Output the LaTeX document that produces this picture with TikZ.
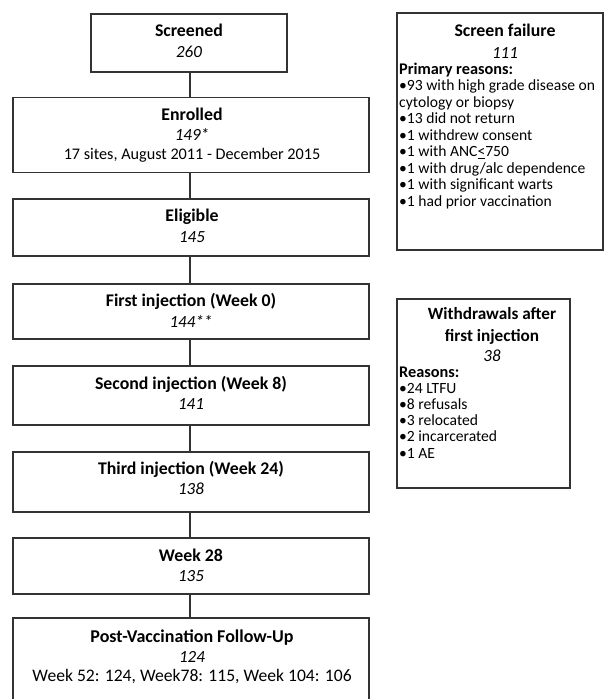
\documentclass[tikz,border=0pt]{standalone}
\usepackage{fontspec}
\setmainfont{Carlito}
\begin{document}
\begin{tikzpicture}[x=1pt,y=-1pt,
  box/.style={draw=black!80, line width=1.3pt, inner sep=0pt},
  conn/.style={draw=black!80, line width=1.3pt},
  ttl/.style={inner sep=0pt, anchor=base, font=\fontsize{17.8}{20}\selectfont\bfseries},
  num/.style={inner sep=0pt, anchor=base, font=\fontsize{17}{20}\selectfont\itshape},
  txt/.style={inner sep=0pt, anchor=base, font=\fontsize{16.2}{20}\selectfont},
  sidebody/.style={inner sep=0pt, anchor=base west, font=\fontsize{15.6}{18}\selectfont}
]
\useasboundingbox (0,0) rectangle (604,699);
\clip (0,0) rectangle (604,699);

% ---- main flow boxes
\node[box, minimum width=196pt, minimum height=58pt] (scr) at (189,43) {};
\node[box, minimum width=356pt, minimum height=75pt] (enr) at (191,135) {};
\node[box, minimum width=356pt, minimum height=57pt] (eli) at (191,227.5) {};
\node[box, minimum width=356pt, minimum height=55pt] (fi) at (191,311.5) {};
\node[box, minimum width=356pt, minimum height=59pt] (se) at (191,395.5) {};
\node[box, minimum width=356pt, minimum height=60pt] (th) at (191,482) {};
\node[box, minimum width=356pt, minimum height=56pt] (wk) at (191,566) {};
\node[box, minimum width=356pt, minimum height=100pt] (post) at (191,668) {};

% ---- texts of the main flow
\node[ttl] (scr1) at (189,36) {Screened};
\node[num] (scr2) at (189,57) {260};
\node[ttl] (enr1) at (192,120) {Enrolled};
\node[num] (enr2) at (192,140) {149*};
\node[txt] (enr3) at (192,159) {17 sites, August 2011 - December 2015};
\node[ttl] (eli1) at (192,221) {Eligible};
\node[num] (eli2) at (192,242) {145};
\node[ttl] (fi1) at (191,306) {First injection (Week 0)};
\node[num] (fi2) at (191,327) {144**};
\node[ttl] (se1) at (191,389) {Second injection (Week 8)};
\node[num] (se2) at (191,409) {141};
\node[ttl] (th1) at (191,474) {Third injection (Week 24)};
\node[num] (th2) at (191,494) {138};
\node[ttl] (wk1) at (191,561) {Week 28};
\node[num] (wk2) at (191,581) {135};
\node[ttl, font=\fontsize{18}{20}\selectfont\bfseries] (post1) at (192,642) {Post-Vaccination Follow-Up};
\node[num] (post2) at (192,662) {124};
\node[txt, font=\fontsize{17.6}{20}\selectfont] (post3) at (192,681) {Week 52: 124, Week78: 115, Week 104: 106};

% ---- connectors
\foreach \a/\b in {scr/enr, enr/eli, eli/fi, fi/se, se/th, th/wk, wk/post}
  \draw[conn] ([xshift=-1pt]\b.north) -- ([xshift=-1pt]\b.north |- \a.south);

% ---- screen failure box
\node[box, minimum width=206pt, minimum height=237pt] (sf) at (500,131.5) {};
\node[ttl] (sft1) at (505,36) {Screen failure};
\node[num] (sft2) at (505,58) {111};
\node[sidebody, font=\fontsize{16.3}{18}\selectfont\bfseries] (sfb0) at (399,74) {Primary reasons:};
\foreach [count=\i] \t in {•93 with high grade disease on, cytology or biopsy,
  •13 did not return, •1 withdrew consent, {•1 with ANC\underline{<}750},
  •1 with drug/alc dependence, •1 with significant warts, •1 had prior vaccination}
  \node[sidebody] (sfb\i) at (399,74+16.55*\i) {\t};

% ---- withdrawals box
\node[box, minimum width=173pt, minimum height=189pt] (wd) at (483.5,393.5) {};
\node[ttl, font=\fontsize{17.2}{20}\selectfont\bfseries] (wdt1) at (492,319) {Withdrawals after};
\node[ttl, font=\fontsize{17.2}{20}\selectfont\bfseries] (wdt2) at (492,341) {first injection};
\node[num] (wdt3) at (492,361) {38};
\node[sidebody, font=\fontsize{16.3}{18}\selectfont\bfseries] (wdb0) at (399,377) {Reasons:};
\foreach [count=\i] \t in {•24 LTFU, •8 refusals, •3 relocated, •2 incarcerated, •1 AE}
  \node[sidebody] (wdb\i) at (399,377+16.2*\i) {\t};
\end{tikzpicture}
\end{document}
